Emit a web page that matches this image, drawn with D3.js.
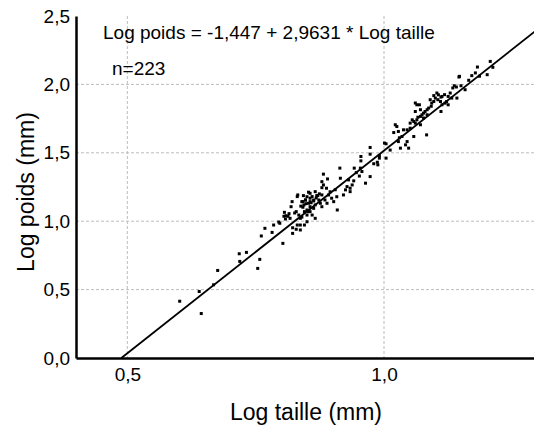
<!DOCTYPE html>
<html>
<head>
<meta charset="utf-8">
<script src="https://cdn.jsdelivr.net/npm/d3@7"></script>
<style>
  body { margin: 0; background: #fff; }
  svg { display: block; font-family: "Liberation Sans", Arial, sans-serif; }
  .grid line { stroke: #bdbdbd; stroke-dasharray: 3,2; stroke-width: 1; }
  .axis .domain { stroke: #000; stroke-width: 2.5; }
  .axis text { font-size: 19px; fill: #000; }
</style>
</head>
<body>
<svg id="chart"></svg>
<script>
// log taille (x) / log poids (y)
const logTaille = [
  0.602, 0.640, 0.644, 0.668, 0.676, 0.718, 0.719, 0.732, 0.754, 0.758,
  0.761, 0.768, 0.782, 0.785, 0.795, 0.803, 0.805, 0.809, 0.813, 0.817,
  0.808, 0.819, 0.821, 0.822, 0.829, 0.837, 0.822, 0.829, 0.834, 0.837,
  0.832, 0.842, 0.842, 0.845, 0.850, 0.797, 0.806, 0.843, 0.847, 0.853,
  0.856, 0.856, 0.860, 0.863, 0.866, 0.871, 0.873, 0.850, 0.853, 0.860,
  0.866, 0.850, 0.837, 0.831, 0.845, 0.856, 0.863, 1.001, 1.004, 0.973,
  0.955, 0.955, 0.973, 0.991, 0.991, 0.987, 0.988, 1.004, 0.914, 0.942,
  0.954, 0.957, 0.973, 0.964, 0.915, 0.931, 0.941, 0.938, 0.934, 0.928,
  0.925, 0.934, 0.921, 0.882, 0.890, 0.879, 0.882, 0.888, 0.879, 0.856,
  0.866, 0.869, 0.879, 0.892, 0.898, 0.885, 0.889, 0.876, 0.863, 0.850,
  0.847, 0.853, 0.844, 0.856, 0.879, 0.902, 0.908, 0.840, 1.137, 1.141,
  1.134, 1.146, 1.129, 1.125, 1.132, 1.122, 1.125, 1.119, 1.111, 1.106,
  1.103, 1.097, 1.100, 1.090, 1.093, 1.097, 1.105, 1.110, 1.113, 1.111,
  1.061, 1.064, 1.069, 1.071, 1.061, 1.077, 1.080, 1.084, 1.087, 1.074,
  1.084, 1.077, 1.055, 1.058, 1.051, 1.061, 1.064, 1.071, 1.022, 1.025,
  1.019, 1.028, 1.038, 1.035, 1.045, 1.051, 1.058, 1.071, 1.083, 1.045,
  1.042, 1.028, 1.032, 1.048, 1.207, 1.182, 1.178, 1.171, 1.201, 1.147,
  1.158, 1.142, 1.113, 0.909, 0.831, 0.838, 0.848, 0.858, 0.868, 0.874,
  0.826, 0.815, 0.840, 0.895, 0.905, 0.952, 0.946, 0.980, 1.012, 1.030,
  1.066, 1.092, 1.118, 1.150, 1.165, 1.186, 1.212
]
const logPoids = [
  0.415, 0.486, 0.325, 0.535, 0.640, 0.762, 0.706, 0.772, 0.655, 0.721,
  0.892, 0.948, 0.918, 0.972, 0.994, 0.838, 1.036, 1.040, 1.036, 1.021,
  1.016, 1.106, 1.143, 0.952, 0.941, 0.936, 0.911, 1.070, 1.045, 1.021,
  1.192, 1.143, 1.102, 1.070, 1.045, 0.985, 1.065, 1.187, 1.155, 1.212,
  1.168, 1.143, 1.180, 1.148, 1.119, 1.187, 1.155, 1.082, 1.070, 1.045,
  1.021, 0.996, 0.972, 0.972, 0.972, 1.070, 1.094, 1.571, 1.566, 1.539,
  1.473, 1.441, 1.490, 1.480, 1.461, 1.431, 1.412, 1.461, 1.388, 1.388,
  1.388, 1.363, 1.326, 1.278, 1.314, 1.302, 1.295, 1.265, 1.241, 1.253,
  1.229, 1.216, 1.192, 1.344, 1.309, 1.289, 1.265, 1.241, 1.245, 1.204,
  1.216, 1.187, 1.192, 1.192, 1.168, 1.155, 1.131, 1.131, 1.155, 1.179,
  1.155, 1.131, 1.119, 1.106, 1.106, 1.143, 1.179, 1.143, 1.990, 1.981,
  1.974, 2.054, 1.937, 1.912, 1.900, 1.875, 1.851, 1.863, 1.907, 1.924,
  1.937, 1.918, 1.900, 1.888, 1.863, 1.875, 1.888, 1.875, 1.851, 1.802,
  1.864, 1.851, 1.851, 1.815, 1.802, 1.790, 1.802, 1.815, 1.827, 1.778,
  1.778, 1.754, 1.741, 1.729, 1.717, 1.717, 1.741, 1.766, 1.705, 1.692,
  1.648, 1.656, 1.668, 1.619, 1.668, 1.680, 1.619, 1.705, 1.631, 1.582,
  1.558, 1.582, 1.534, 1.534, 2.168, 2.127, 2.084, 2.064, 2.071, 2.059,
  1.961, 1.900, 1.912, 1.082, 1.180, 1.110, 1.128, 1.135, 1.170, 1.200,
  1.060, 1.055, 1.030, 1.215, 1.230, 1.330, 1.355, 1.420, 1.520, 1.610,
  1.760, 1.840, 1.925, 1.990, 2.030, 2.060, 2.125
]

// regression: Log poids = a + b * Log taille
const intercept = -1.447
const slope = 2.9631
const nObs = 223

const xTicks = [0.5, 1.0]
const yTicks = [0.0, 0.5, 1.0, 1.5, 2.0, 2.5]

const width = 534, height = 425

const locale = d3.formatLocale({ decimal: ",", thousands: " ", grouping: [3], currency: ["", ""] })
const fmt = locale.format(".1f")
const fmtEq = v => String(v).replace(".", ",")

const svg = d3.select("#chart")
    .attr("width", width)
    .attr("height", height)

const x = d3.scaleLinear().domain([0.4, 1.3]).range([76, 538])
const y = d3.scaleLinear().domain([0, 2.5]).range([358, 16])

// grid
const grid = svg.append("g").attr("class", "grid")
grid.selectAll(".hg")
    .data(yTicks.filter(d => d > 0 && d < 2.5))
    .join("line")
        .attr("x1", x(0.4)).attr("x2", width)
        .attr("y1", d => y(d)).attr("y2", d => y(d))
grid.selectAll(".vg")
    .data(xTicks)
    .join("line")
        .attr("class", "vg")
        .attr("x1", d => x(d)).attr("x2", d => x(d))
        .attr("y1", y(2.5)).attr("y2", y(0))

// regression line, from where it crosses 0 to the right edge
const x0 = -intercept / slope
const x1 = x.domain()[1]
svg.append("line")
    .attr("x1", x(x0)).attr("y1", y(intercept + slope * x0))
    .attr("x2", x(x1)).attr("y2", y(intercept + slope * x1))
    .attr("stroke", "#000")
    .attr("stroke-width", 1.8)

// points
const pts = logTaille.map((d, i) => [d, logPoids[i]])
svg.selectAll(".pt")
    .data(pts)
    .join("rect")
        .attr("class", "pt")
        .attr("x", d => x(d[0]) - 1.5)
        .attr("y", d => y(d[1]) - 1.5)
        .attr("width", 3)
        .attr("height", 3)
        .attr("fill", "#000")

// axes
svg.append("g")
    .attr("class", "axis")
    .attr("transform", `translate(0, ${y(0)})`)
    .call(d3.axisBottom(x).tickValues(xTicks).tickFormat(fmt).tickSize(0).tickPadding(10))

svg.append("g")
    .attr("class", "axis")
    .attr("transform", `translate(${x(0.4)}, 0)`)
    .call(d3.axisLeft(y).tickValues(yTicks).tickFormat(fmt).tickSize(0).tickPadding(6))

// labels
svg.append("text")
    .attr("x", 103).attr("y", 39)
    .style("font-size", "19px")
    .text(`Log poids = ${fmtEq(intercept)} + ${fmtEq(slope)} * Log taille`)

svg.append("text")
    .attr("x", 112).attr("y", 75)
    .style("font-size", "19px")
    .text(`n=${nObs}`)

svg.append("text")
    .attr("x", 306).attr("y", 420)
    .attr("text-anchor", "middle")
    .style("font-size", "23px")
    .text("Log taille (mm)")

svg.append("text")
    .attr("transform", `translate(34, 192) rotate(-90)`)
    .attr("text-anchor", "middle")
    .style("font-size", "23px")
    .text("Log poids (mm)")
</script>
</body>
</html>
